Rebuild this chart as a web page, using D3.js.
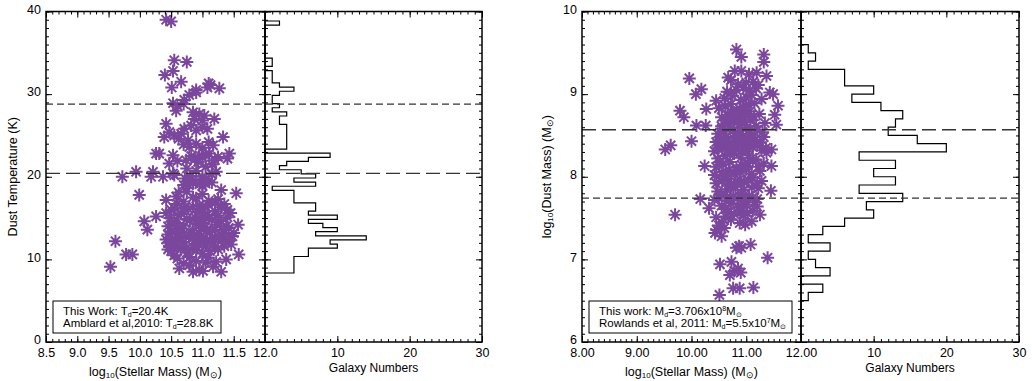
<!DOCTYPE html>
<html><head><meta charset="utf-8">
<script src="https://cdn.jsdelivr.net/npm/d3@7"></script>
<style>
body{margin:0;background:#fff}
svg{display:block}
text{font-family:"Liberation Sans",Arial,Helvetica,sans-serif;fill:#000}
</style>
</head><body>
<svg id="c" width="1032" height="381"></svg>
<script>
// ---------- DATA ----------
// Left: log10 stellar mass vs dust temperature (K)
const tempPoints = [
[10.50,38.8],[10.42,39.0],
[10.55,34.1],[10.75,33.9],
[10.40,32.3],[10.53,32.8],[10.66,31.5],
[11.13,31.1],[11.10,31.3],
[10.90,30.5],[10.51,30.8],[11.08,30.8],[11.27,30.7],
[10.79,29.9],[10.90,30.2],
[10.53,28.9],[10.71,29.3],
[10.60,28.6],[10.70,28.8],
[10.58,28.0],
[11.03,27.4],[10.95,27.6],[10.85,27.8],
[10.42,26.4],[10.87,27.0],[11.19,27.0],[11.00,26.8],
[10.77,24.4],[10.39,24.8],[11.33,24.8],[10.47,25.4],[10.66,25.2],[11.08,25.8],[10.71,25.8],[10.82,26.2],[10.55,25.0],[10.90,25.6],[11.00,26.0],[10.62,24.6],
[10.90,24.0],[11.10,24.2],[10.70,23.9],
[11.17,23.8],[10.79,23.6],[11.00,23.5],
[10.26,22.8],[10.31,22.8],[10.53,22.6],[10.95,22.6],[11.11,22.8],[11.43,22.8],[10.82,22.5],[11.05,22.7],[11.25,22.4],
[10.74,22.0],[11.40,22.2],[10.60,21.9],[10.88,22.1],[11.00,22.3],[11.20,22.0],
[10.47,21.6],[10.93,21.8],[11.15,21.5],
[10.75,21.0],[11.05,21.2],
[10.53,20.4],[9.94,20.6],[10.21,20.6],[11.22,20.6],[10.90,20.7],
[9.72,20.0],[10.18,20.0],[10.37,20.0],[11.00,20.0],[10.80,20.1],[10.55,20.2],[11.15,20.3],
[10.85,19.6],[11.10,19.5],[10.72,19.8],[11.00,19.7],
[10.70,19.0],[10.85,19.2],[11.00,18.9],[10.95,19.1],[11.15,19.3],[10.78,19.0],[11.05,19.2],
[11.30,18.4],
[10.42,17.2],[10.58,17.6],[11.54,18.0],[10.70,17.0],[10.90,17.4],[9.99,17.8],[11.10,17.1],[10.85,17.5],[11.00,17.9],[10.75,18.2],[11.25,17.3],[10.62,18.1],
[10.50,16.0],[10.70,16.2],[10.85,16.4],[11.00,16.1],[11.10,16.6],[11.30,16.3],[10.60,16.7],[11.40,16.0],[10.95,16.5],[11.20,16.8],[10.55,16.2],[11.05,16.4],[10.78,16.1],[11.35,16.7],
[10.42,15.6],[10.66,15.5],[10.92,15.7],[11.08,15.4],[11.20,15.8],[11.45,15.6],
[10.26,15.2],[10.48,15.0],[10.62,15.3],[10.75,14.9],[10.88,15.1],[11.02,15.2],[11.10,15.0],[11.25,15.3],[11.40,15.1],[10.95,14.9],
[10.07,14.6],[10.55,14.5],[10.80,14.7],[11.00,14.4],[11.15,14.8],[11.30,14.6],
[11.57,14.2],[10.45,14.0],[10.70,14.1],[10.90,14.3],[11.05,13.9],[11.22,14.2],[11.38,14.0],[10.56,14.3],
[10.12,13.6],[10.50,13.4],[10.68,13.7],[10.84,13.5],[10.98,13.8],[11.06,13.4],[11.20,13.6],[11.34,13.5],[10.60,13.7],[11.42,13.8],
[10.45,13.0],[10.62,13.2],[10.80,12.9],[10.95,13.1],[11.12,13.3],[11.30,13.0],[11.50,13.2],
[10.42,12.4],[10.52,12.5],[10.66,12.6],[10.78,12.7],[10.90,12.5],[10.98,12.8],[11.08,12.4],[11.16,12.6],[11.26,12.7],[11.36,12.5],[11.48,12.8],[10.84,12.6],[11.00,12.4],[10.60,12.7],
[9.61,12.2],[10.45,12.0],[10.70,12.1],[10.88,12.3],[11.02,11.9],[11.18,12.0],[11.30,12.2],[10.58,12.1],[11.42,12.3],
[11.46,11.8],[10.48,11.5],[10.62,11.6],[10.85,11.4],[11.05,11.7],[11.20,11.5],[11.35,11.6],[10.95,11.8],[10.75,11.4],[10.55,11.7],
[9.78,10.6],[9.88,10.6],[11.58,10.6],[10.55,10.5],[11.00,10.7],[10.75,10.8],
[10.50,11.0],[10.90,11.1],[11.25,11.2],[10.65,11.3],[11.12,11.0],[10.45,11.2],
[11.38,10.0],[10.60,10.1],[11.10,10.2],[10.80,10.3],
[10.70,9.5],[11.05,9.6],[10.90,9.8],[11.22,9.7],
[10.63,8.9],[11.17,9.1],[10.79,9.3],[9.53,9.1],
[10.85,8.5],[11.01,8.6],[11.30,8.5],[10.95,8.7]
];
// Histogram of dust temperature: bins of 0.5 K starting at 8.35 K
const tempBinStart = 8.35, tempBinWidth = 0.5;
const tempCounts = [4,4,4,4,6,6,10,9,14,7,10,8,6,10,6,7,7,4,4,4,1,7,4,7,5,2,3,6,9,0,
  3,3,3,3,3,3,2,2,3,1,2,1,1,2,4,2,1,1,1,0,1,1,0,0,0,0,0,0,0,0,2];
const tempThisWork = 20.4, tempAmblard = 28.8;

// Right: log10 stellar mass vs log10 dust mass
const dustPoints = [
[10.51,6.57],
[10.76,6.65],[10.88,6.65],[11.13,6.66],
[10.70,6.81],[10.85,6.89],[10.78,6.86],[10.90,6.84],
[10.52,6.94],[10.73,6.97],
[11.39,7.02],
[10.82,7.14],[10.91,7.14],[11.08,7.18],[10.87,7.16],
[10.55,7.28],
[10.43,7.32],[10.46,7.36],[10.60,7.38],
[10.98,7.42],[10.55,7.45],[10.72,7.48],[10.88,7.44],[11.10,7.46],[10.50,7.41],
[9.70,7.54],[11.25,7.54],[10.62,7.52],[10.78,7.55],[10.90,7.58],[11.02,7.56],[10.45,7.51],[11.12,7.59],[10.68,7.57],[10.95,7.53],
[10.32,7.62],[10.55,7.65],[10.72,7.68],[10.85,7.63],[11.00,7.66],[11.15,7.69],[10.62,7.61],[10.92,7.67],[11.20,7.64],
[10.16,7.73],[10.42,7.72],[10.50,7.75],[10.60,7.78],[10.68,7.71],[10.76,7.76],[10.84,7.74],[10.90,7.79],[10.98,7.72],[11.05,7.77],[11.12,7.75],[11.20,7.73],[10.55,7.78],[10.95,7.71],
[11.45,7.83],[10.48,7.82],[10.65,7.85],[10.80,7.88],[10.95,7.84],[11.10,7.87],[11.22,7.86],[10.72,7.89],
[10.45,7.92],[10.56,7.95],[10.64,7.98],[10.72,7.91],[10.80,7.94],[10.88,7.97],[10.96,7.93],[11.04,7.96],[11.12,7.99],[11.20,7.92],[11.28,7.95],[10.60,7.98],[10.90,7.91],
[10.42,8.02],[10.55,8.05],[10.68,8.08],[10.78,8.03],[10.90,8.06],[11.00,8.09],[11.10,8.04],[11.25,8.07],[10.62,8.01],[10.84,8.08],
[10.24,8.13],[11.46,8.13],[10.45,8.12],[10.58,8.15],[10.70,8.18],[10.82,8.11],[10.92,8.14],[11.02,8.17],[11.12,8.19],[11.22,8.12],[11.32,8.16],[10.52,8.18],[10.98,8.11],
[11.37,8.29],[10.48,8.22],[10.62,8.25],[10.78,8.28],[10.90,8.23],[11.05,8.26],[11.18,8.21],[10.70,8.27],
[9.52,8.33],[9.62,8.38],[11.46,8.33],[10.42,8.31],[10.50,8.35],[10.58,8.38],[10.65,8.32],[10.72,8.36],[10.80,8.34],[10.86,8.39],[10.92,8.31],[10.98,8.37],[11.05,8.33],[11.12,8.36],[11.20,8.38],[11.28,8.32],[11.36,8.35],[10.68,8.39],[10.95,8.34],[10.55,8.37],
[10.00,8.43],[10.45,8.42],[10.55,8.45],[10.62,8.48],[10.70,8.41],[10.78,8.46],[10.86,8.44],[10.94,8.49],[11.00,8.42],[11.08,8.47],[11.16,8.45],[11.25,8.41],[11.32,8.48],[10.50,8.43],[10.90,8.46],[11.10,8.44],
[10.48,8.52],[10.60,8.55],[10.70,8.58],[10.80,8.53],[10.90,8.56],[11.00,8.59],[11.10,8.51],[11.20,8.57],[11.30,8.54],[10.55,8.58],[10.85,8.52],[11.05,8.56],
[10.09,8.62],[10.26,8.62],[11.55,8.63],[11.34,8.65],[10.55,8.61],[10.68,8.64],[10.78,8.67],[10.88,8.63],[10.98,8.66],[11.08,8.69],[11.18,8.61],[10.62,8.68],[10.92,8.66],
[9.86,8.72],[11.52,8.75],[10.55,8.72],[10.66,8.75],[10.74,8.78],[10.82,8.71],[10.90,8.74],[10.98,8.77],[11.06,8.79],[11.14,8.73],[11.24,8.76],[10.70,8.71],[10.86,8.78],[11.00,8.74],
[9.79,8.80],[10.27,8.82],[11.58,8.86],[10.50,8.83],[10.62,8.85],[10.72,8.88],[10.82,8.81],[10.94,8.84],[11.04,8.87],[11.15,8.89],[10.88,8.82],
[10.45,8.92],[10.60,8.95],[10.75,8.98],[10.90,8.93],[11.00,8.96],[11.10,8.99],[11.28,8.94],
[10.08,9.00],[10.18,9.06],[11.43,9.02],[11.49,9.00],[10.65,9.03],[10.82,9.05],[10.95,9.08],[11.05,9.04],[11.18,9.07],[10.72,9.01],
[9.96,9.19],[11.13,9.15],[10.85,9.12],[11.00,9.14],[10.72,9.17],[11.22,9.11],
[11.37,9.22],[11.19,9.26],[10.79,9.28],[10.67,9.20],[10.91,9.28],[11.05,9.24],
[11.32,9.39],
[10.91,9.45],[11.32,9.48],
[10.82,9.54]
];
// Histogram of dust mass: bins of 0.1 dex starting at 6.5
const dustBinStart = 6.5, dustBinWidth = 0.1;
const dustCounts = [1,3,0,4,2,1,4,1,3,6,10,9,14,8,13,10,13,8,20,16,12,13,14,11,7,10,6,6,1,2,1];
const dustThisWork = Math.log10(3.706e8), dustRowlands = Math.log10(5.5e7);

// Ticks
const tempXTicks = [8.5,9.0,9.5,10.0,10.5,11.0,11.5,12.0];
const tempYTicks = [0,10,20,30,40];
const dustXTicks = [8,9,10,11,12];
const dustYTicks = [6,7,8,9,10];
const histTicks = [0,10,20,30];
const histLabels = [10,20,30];

// ---------- DRAW ----------
const svg = d3.select("#c");
const TOP = 11.5, BOT = 342;
const PURPLE = "#7a479d";
const STAR = "M-6.5,0H6.5M0,-6.5V6.5M-4.6,-4.6L4.6,4.6M-4.6,4.6L4.6,-4.6";

function ax(g, gen, tx, ty, fs) {
  const a = g.append("g").attr("transform", `translate(${tx},${ty})`).call(gen);
  a.select(".domain").remove();
  a.selectAll("line").attr("stroke", "#000").attr("stroke-width", 1);
  a.selectAll("text").attr("font-size", fs || 12.5).attr("fill", "#000")
    .attr("font-family", '"Liberation Sans",Arial,sans-serif');
  return a;
}

function frameAxes(g, xs, ys, xMajor, xMinor, yMajor, yMinor, xFmt, yFmt, labelsX, labelsY) {
  const [x0, x1] = xs.range();
  // bottom
  ax(g, d3.axisBottom(xs).tickValues(xMinor).tickSize(-3).tickFormat(""), 0, BOT);
  ax(g, d3.axisBottom(xs).tickValues(xMajor).tickSizeInner(-6).tickSizeOuter(0).tickPadding(6)
      .tickFormat(labelsX ? xFmt : ""), 0, BOT);
  // top
  ax(g, d3.axisTop(xs).tickValues(xMinor).tickSize(-3).tickFormat(""), 0, TOP);
  ax(g, d3.axisTop(xs).tickValues(xMajor).tickSize(-6).tickFormat(""), 0, TOP);
  // left
  ax(g, d3.axisLeft(ys).tickValues(yMinor).tickSize(-3).tickFormat(""), x0, 0);
  const l = ax(g, d3.axisLeft(ys).tickValues(yMajor).tickSizeInner(-6).tickSizeOuter(0).tickPadding(5)
      .tickFormat(labelsY ? yFmt : ""), x0, 0);
  l.selectAll("text").attr("dy", "0.14em");
  // right
  ax(g, d3.axisRight(ys).tickValues(yMinor).tickSize(-3).tickFormat(""), x1, 0);
  ax(g, d3.axisRight(ys).tickValues(yMajor).tickSize(-6).tickFormat(""), x1, 0);
  g.append("rect").attr("x", x0).attr("y", TOP).attr("width", x1 - x0).attr("height", BOT - TOP)
    .attr("fill", "none").attr("stroke", "#000").attr("stroke-width", 1.5);
}

function histPath(counts, start, width, hx, ys) {
  const pts = [[0, start]];
  counts.forEach((c, i) => { pts.push([c, start + i * width]); pts.push([c, start + (i + 1) * width]); });
  pts.push([0, start + counts.length * width]);
  return d3.line().x(d => hx(d[0])).y(d => ys(d[1]))(pts);
}

function panel(o) {
  const g = svg.append("g");
  const xs = d3.scaleLinear().domain(o.xDomain).range([o.sx0, o.sx1]);
  const ys = d3.scaleLinear().domain(o.yDomain).range([BOT, TOP]);
  const hx = d3.scaleLinear().domain([0, 30]).range([o.sx1, o.hx1]);

  // points
  g.append("g").selectAll("path").data(o.points).join("path")
    .attr("transform", d => `translate(${xs(d[0])},${ys(d[1])})`)
    .attr("d", STAR).attr("fill", "none").attr("stroke", PURPLE)
    .attr("stroke-width", 2).attr("stroke-linecap", "butt");

  // histogram
  g.append("path").attr("d", histPath(o.counts, o.binStart, o.binWidth, hx, ys))
    .attr("fill", "none").attr("stroke", "#000").attr("stroke-width", 1.2);

  // reference lines
  o.lines.forEach(l => {
    g.append("line").attr("x1", o.sx0).attr("x2", o.hx1)
      .attr("y1", ys(l.v)).attr("y2", ys(l.v))
      .attr("stroke", "#333").attr("stroke-width", 1.3).attr("stroke-dasharray", l.dash);
  });

  // axes
  const xMinor = d3.range(o.xDomain[0], o.xDomain[1] + 1e-9, o.xMinorStep);
  const yMinor = d3.range(o.yDomain[0], o.yDomain[1] + 1e-9, o.yMinorStep);
  frameAxes(g, xs, ys, o.xTicks, xMinor, o.yTicks, yMinor, o.xFmt, o.yFmt, true, true);
  const hMinor = d3.range(0, 30.001, 1);
  frameAxes(g, hx, ys, histTicks, hMinor, o.yTicks, yMinor,
    d => (histLabels.includes(d) ? d : ""), null, true, false);

  // legend
  const lg = g.append("g");
  lg.append("rect").attr("x", o.leg.x).attr("y", o.leg.y).attr("width", o.leg.w).attr("height", o.leg.h)
    .attr("fill", "#fff").attr("stroke", "#000").attr("stroke-width", 1);
  o.leg.lines.forEach((parts, i) => {
    const t = lg.append("text").attr("x", o.leg.x + 10).attr("y", o.leg.y + 14 + i * 12).attr("font-size", 11.5);
    parts.forEach(p => {
      const s = t.append("tspan").text(p.t);
      if (p.sub) s.attr("font-size", 7).attr("dy", 2);
      if (p.sup) s.attr("font-size", 7).attr("dy", -4);
      if (p.back) s.attr("dy", p.back);
    });
  });

  // axis titles
  const xt = g.append("text").attr("x", (o.sx0 + o.sx1) / 2).attr("y", 376)
    .attr("text-anchor", "middle").attr("font-size", 12.5);
  xt.append("tspan").text("log");
  xt.append("tspan").text("10").attr("font-size", 8).attr("dy", 2);
  xt.append("tspan").text("(Stellar Mass) (M").attr("dy", -2);
  xt.append("tspan").text("⊙").attr("font-size", 9).attr("dy", 2);
  xt.append("tspan").text(")").attr("dy", -2);

  g.append("text").attr("x", (o.sx1 + o.hx1) / 2).attr("y", 372)
    .attr("text-anchor", "middle").attr("font-size", 12).text("Galaxy Numbers");

  const yt = g.append("text").attr("transform", `translate(${o.yTitleX},${(TOP + BOT) / 2}) rotate(-90)`)
    .attr("text-anchor", "middle").attr("font-size", 12.5);
  o.yTitle(yt);
}

panel({
  sx0: 46, sx1: 265, hx1: 482,
  xDomain: [8.5, 12.0], yDomain: [0, 40],
  xTicks: tempXTicks, yTicks: tempYTicks, xMinorStep: 0.1, yMinorStep: 1,
  xFmt: d3.format(".1f"), yFmt: d3.format("d"),
  points: tempPoints, counts: tempCounts, binStart: tempBinStart, binWidth: tempBinWidth,
  lines: [{v: tempAmblard, dash: "7,4"}, {v: tempThisWork, dash: "14,6"}],
  leg: {x: 53, y: 301, w: 168, h: 32, lines: [
    [{t: "This Work: T"}, {t: "d", sub: true}, {t: "=20.4K", back: -2}],
    [{t: "Amblard et al,2010: T"}, {t: "d", sub: true}, {t: "=28.8K", back: -2}]
  ]},
  yTitleX: 17,
  yTitle: t => t.append("tspan").text("Dust Temperature (K)")
});

panel({
  sx0: 582, sx1: 801, hx1: 1019,
  xDomain: [8, 12], yDomain: [6, 10],
  xTicks: dustXTicks, yTicks: dustYTicks, xMinorStep: 0.1, yMinorStep: 0.1,
  xFmt: d3.format(".2f"), yFmt: d3.format("d"),
  points: dustPoints, counts: dustCounts, binStart: dustBinStart, binWidth: dustBinWidth,
  lines: [{v: dustThisWork, dash: "14,6"}, {v: dustRowlands, dash: "7,4"}],
  leg: {x: 589, y: 301, w: 203, h: 32, lines: [
    [{t: "This work: M"}, {t: "d", sub: true}, {t: "=3.706x10", back: -2}, {t: "8", sup: true}, {t: "M", back: 4}, {t: "⊙", sub: true}],
    [{t: "Rowlands et al, 2011: M"}, {t: "d", sub: true}, {t: "=5.5x10", back: -2}, {t: "7", sup: true}, {t: "M", back: 4}, {t: "⊙", sub: true}]
  ]},
  yTitleX: 551,
  yTitle: t => {
    t.append("tspan").text("log");
    t.append("tspan").text("10").attr("font-size", 8).attr("dy", 2);
    t.append("tspan").text("(Dust Mass) (M").attr("dy", -2);
    t.append("tspan").text("⊙").attr("font-size", 9).attr("dy", 2);
    t.append("tspan").text(")").attr("dy", -2);
  }
});
</script>
</body></html>
